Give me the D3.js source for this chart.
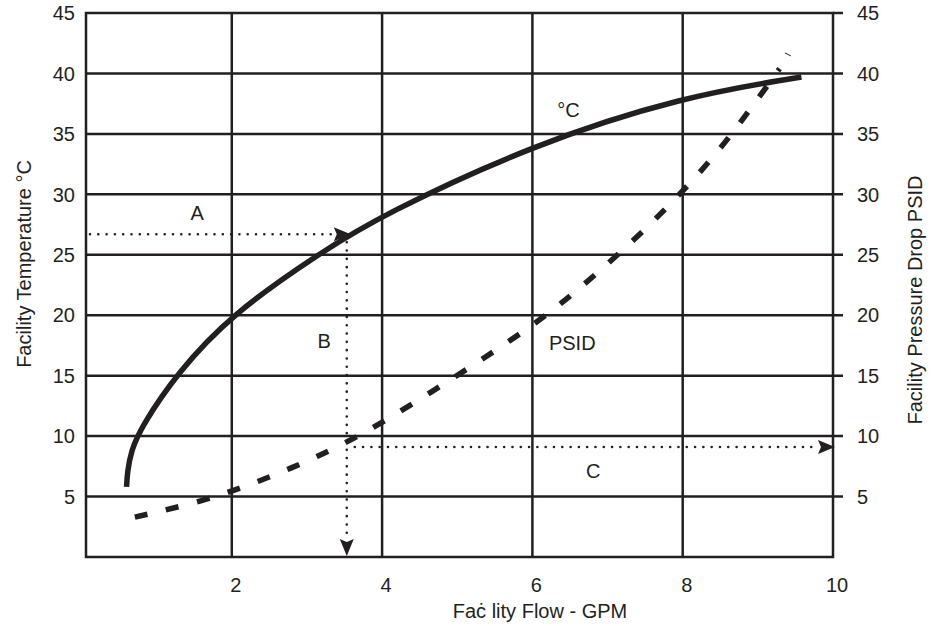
<!DOCTYPE html>
<html>
<head>
<meta charset="utf-8">
<script src="https://cdn.jsdelivr.net/npm/d3@7"></script>
<style>
  body { margin: 0; background: #fff; }
  text { font-family: "Liberation Sans", Arial, sans-serif; fill: #231f20; }
</style>
</head>
<body>
<div id="chart"></div>
<script>
// flow (GPM) vs facility temperature (deg C), solid curve
var tempFlow = [0.6, 0.61, 0.66, 0.8, 1.27, 2.0, 3.16, 4.0, 6.0, 8.0, 9.58];
var tempVal  = [5.8, 7.0, 8.8, 10.8, 15.2, 20.1, 25.1, 28.3, 34.1, 38.1, 39.7];

// flow (GPM) vs pressure drop (PSID), dashed curve
var psidFlow = [0.71, 1.62, 2.39, 3.15, 3.88, 5.0, 5.93, 6.58, 7.5, 8.3, 8.78, 9.29];
var psidVal  = [3.3, 4.6, 6.3, 8.3, 10.6, 15.0, 18.8, 21.9, 27.0, 32.2, 36.0, 40.4];

// stray pen mark above the PSID curve end
var strayFlow = [9.36, 9.44];
var strayVal  = [41.7, 41.45];

var xTicks = [2, 4, 6, 8, 10];
var yTicks = [5, 10, 15, 20, 25, 30, 35, 40, 45];

// worked example: A -> B -> C
var exTemp = 26.7;
var exFlow = 3.53;
var exPsid = 9.1;

var labels = [
  { t: "A", x: 1.54, y: 27.9, anchor: "middle" },
  { t: "B", x: 3.23, y: 17.3, anchor: "middle" },
  { t: "C", x: 6.81, y: 6.55, anchor: "middle" },
  { t: "°C", x: 6.33, y: 36.4, anchor: "start" },
  { t: "PSID", x: 6.22, y: 17.15, anchor: "start" }
];

const w = 939;
const h = 626;
const ink = "#231f20";

var svg = d3.select("#chart").append("svg")
  .attr("width", w)
  .attr("height", h);

var x = d3.scaleLinear().domain([0.06, 10]).range([86, 833]);
var y = d3.scaleLinear().domain([0, 45]).range([557, 13]);

var x0 = x.range()[0], x1 = x.range()[1];
var yb = y(0), yt = y(45);

// grid
svg.append("g").selectAll("line.h")
  .data(yTicks.slice(0, -1))
  .enter().append("line")
  .attr("x1", x0 - 1).attr("x2", x1 + 10)
  .attr("y1", d => y(d)).attr("y2", d => y(d))
  .attr("stroke", ink).attr("stroke-width", 2.5);

svg.append("g").selectAll("line.v")
  .data(xTicks.slice(0, -1))
  .enter().append("line")
  .attr("x1", d => x(d)).attr("x2", d => x(d))
  .attr("y1", yt).attr("y2", yb + 1)
  .attr("stroke", ink).attr("stroke-width", 2.5);

// frame
svg.append("rect")
  .attr("x", x0).attr("y", yt)
  .attr("width", x1 - x0).attr("height", yb - yt)
  .attr("fill", "none").attr("stroke", ink).attr("stroke-width", 2.5);
svg.append("line")
  .attr("x1", x1).attr("x2", x1 + 10)
  .attr("y1", yt).attr("y2", yt)
  .attr("stroke", ink).attr("stroke-width", 2.5);

// tick labels
svg.append("g").selectAll("text")
  .data(yTicks).enter().append("text")
  .attr("x", 75).attr("y", d => y(d)).attr("dy", "0.36em")
  .attr("text-anchor", "end").attr("font-size", 20)
  .text(d => d);

svg.append("g").selectAll("text")
  .data(yTicks).enter().append("text")
  .attr("x", 857).attr("y", d => y(d)).attr("dy", "0.36em")
  .attr("text-anchor", "start").attr("font-size", 20)
  .text(d => d);

svg.append("g").selectAll("text")
  .data(xTicks).enter().append("text")
  .attr("x", d => x(d) + 4).attr("y", 592)
  .attr("text-anchor", "middle").attr("font-size", 20)
  .text(d => d);

// axis titles
svg.append("text")
  .attr("x", 540).attr("y", 618)
  .attr("text-anchor", "middle").attr("font-size", 20)
  .text("Faċ lity Flow - GPM");

svg.append("text")
  .attr("transform", "translate(31,264) rotate(-90)")
  .attr("text-anchor", "middle").attr("font-size", 20)
  .text("Facility Temperature °C");

svg.append("text")
  .attr("transform", "translate(922,300) rotate(-90)")
  .attr("text-anchor", "middle").attr("font-size", 20)
  .text("Facility Pressure Drop PSID");

// curves
var line = d3.line()
  .x(d => x(d[0]))
  .y(d => y(d[1]))
  .curve(d3.curveBasis);

svg.append("path")
  .datum(tempFlow.map((f, i) => [f, tempVal[i]]))
  .attr("d", line)
  .attr("fill", "none").attr("stroke", ink).attr("stroke-width", 5.5);

svg.append("path")
  .datum(psidFlow.map((f, i) => [f, psidVal[i]]))
  .attr("d", line)
  .attr("fill", "none").attr("stroke", ink).attr("stroke-width", 5.5)
  .attr("stroke-dasharray", "13,19");

svg.append("path")
  .datum(strayFlow.map((f, i) => [f, strayVal[i]]))
  .attr("d", d3.line().x(d => x(d[0])).y(d => y(d[1])))
  .attr("fill", "none").attr("stroke", ink).attr("stroke-width", 1);

// dotted guide lines
function dotted(pts) {
  svg.append("path")
    .attr("d", d3.line()(pts))
    .attr("fill", "none").attr("stroke", ink)
    .attr("stroke-width", 2.6).attr("stroke-linecap", "round")
    .attr("stroke-dasharray", "0,8.3");
}

function arrow(tx, ty, dir) {
  // dir: "right" or "down"
  var len = 17, hw = 7, p;
  if (dir === "right") p = [[tx, ty], [tx - len, ty - hw], [tx - len + 3, ty], [tx - len, ty + hw]];
  else p = [[tx, ty], [tx - hw, ty - len], [tx, ty - len + 3], [tx + hw, ty - len]];
  svg.append("path")
    .attr("d", "M" + p.join("L") + "Z")
    .attr("fill", ink);
}

dotted([[x0 + 4, y(exTemp)], [x(exFlow) - 12, y(exTemp)]]);
arrow(x(exFlow) + 4, y(exTemp), "right");

dotted([[x(exFlow), y(exTemp) + 8], [x(exFlow), yb - 16]]);
arrow(x(exFlow), yb - 1, "down");

dotted([[x(exFlow) + 8, y(exPsid)], [x1 - 16, y(exPsid)]]);
arrow(x1 + 2, y(exPsid), "right");

// labels
svg.append("g").selectAll("text")
  .data(labels).enter().append("text")
  .attr("x", d => x(d.x)).attr("y", d => y(d.y))
  .attr("text-anchor", d => d.anchor).attr("font-size", 20)
  .text(d => d.t);
</script>
</body>
</html>
